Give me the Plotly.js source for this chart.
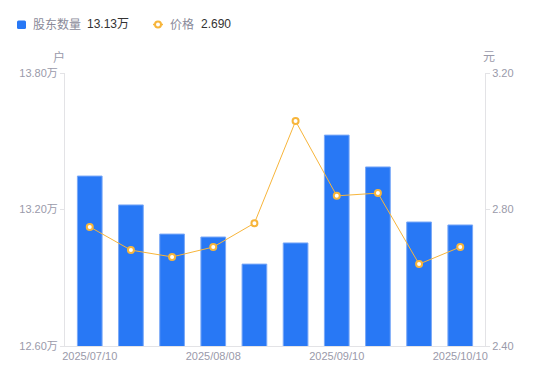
<!DOCTYPE html>
<html><head><meta charset="utf-8">
<script src="https://cdn.plot.ly/plotly-3.0.1.min.js"></script>
<style>html,body{margin:0;padding:0;background:#fff}#c{width:550px;height:381px}</style>
</head><body><div id="c"></div>
<script>
const dates = ['2025/07/10','2025/07/20','2025/07/31','2025/08/08','2025/08/20','2025/08/29','2025/09/10','2025/09/19','2025/09/30','2025/10/10'];
const holders = [13.347, 13.22, 13.092, 13.079, 12.96, 13.053, 13.527, 13.387, 13.145, 13.132];
const prices = [2.749, 2.681, 2.661, 2.690, 2.760, 3.059, 2.840, 2.848, 2.640, 2.690];
const tickDates = ['2025/07/10','2025/08/08','2025/09/10','2025/10/10'];
const holderTicks = [12.6, 13.2, 13.8];
const priceTicks = [2.4, 2.8, 3.2];

const FONT = 'Liberation Sans, Noto Sans CJK SC, sans-serif';
const GRAY = '#9a9aaa';
const AXIS = '#e3e3e6';
const BLUE = '#2878f5';
const ORANGE = '#f7b53b';

// pixel -> paper helpers (plot area 65..485 x, 73..346 y)
const px = x => (x - 65) / 420;
const py = y => (346 - y) / 273;

const traces = [
  {type:'bar', x:dates, y:holders, yaxis:'y', name:'股东数量',
   marker:{color:BLUE, line:{color:'#7aa8f7', width:1}}, width:0.6, hoverinfo:'skip'},
  {type:'scatter', mode:'lines+markers', x:dates, y:prices, yaxis:'y2', name:'价格',
   line:{color:ORANGE, width:1},
   marker:{size:6, color:'#ffffff', line:{color:ORANGE, width:2}}, hoverinfo:'skip'}
];

function roundRect(x0, y0, x1, y1, r) {
  // in paper coords; r in px
  const rx = r / 420, ry = r / 273;
  const X0 = px(x0), X1 = px(x1), Y0 = py(y1), Y1 = py(y0);
  return `M${X0+rx},${Y0} L${X1-rx},${Y0} Q${X1},${Y0} ${X1},${Y0+ry} L${X1},${Y1-ry} Q${X1},${Y1} ${X1-rx},${Y1} L${X0+rx},${Y1} Q${X0},${Y1} ${X0},${Y1-ry} L${X0},${Y0+ry} Q${X0},${Y0} ${X0+rx},${Y0} Z`;
}

const layout = {
  width:550, height:381,
  margin:{l:65, r:65, t:73, b:35},
  paper_bgcolor:'#fff', plot_bgcolor:'#fff',
  showlegend:false,
  font:{family:FONT, size:11, color:GRAY},
  bargap:0.4,
  xaxis:{type:'category', tickmode:'array', tickvals:tickDates, ticktext:tickDates,
    showline:true, linecolor:AXIS, linewidth:1, ticks:'', showgrid:false, zeroline:false,
    tickfont:{size:11, color:GRAY}, fixedrange:true},
  yaxis:{range:[12.6,13.8], tickmode:'array', tickvals:holderTicks,
    ticktext:holderTicks.map(v=>v.toFixed(2)+'万'),
    showline:true, linecolor:AXIS, linewidth:1, ticks:'outside', ticklen:4, tickcolor:AXIS,
    showgrid:false, zeroline:false, tickfont:{size:11, color:GRAY}},
  yaxis2:{range:[2.4,3.2], overlaying:'y', side:'right', tickmode:'array', tickvals:priceTicks,
    ticktext:priceTicks.map(v=>v.toFixed(2)),
    showline:true, linecolor:AXIS, linewidth:1, ticks:'outside', ticklen:4, tickcolor:AXIS,
    showgrid:false, zeroline:false, tickfont:{size:11, color:GRAY}},
  shapes:[
    {type:'path', xref:'paper', yref:'paper', path:roundRect(17, 20.5, 26, 29, 1.5),
     fillcolor:BLUE, line:{width:0}},
    {type:'line', xref:'paper', yref:'paper', x0:px(153), x1:px(163), y0:py(24.5), y1:py(24.5),
     line:{color:ORANGE, width:1.5}},
    {type:'circle', xref:'paper', yref:'paper', x0:px(155), x1:px(161), y0:py(27.5), y1:py(21.5),
     fillcolor:'#ffffff', line:{color:ORANGE, width:2}}
  ],
  annotations:[
    {xref:'paper', yref:'paper', x:px(31), y:py(24.5), xanchor:'left', yanchor:'middle', showarrow:false,
     text:'股东数量', font:{size:12, color:'#8a8a99'}},
    {xref:'paper', yref:'paper', x:px(85), y:py(24.5), xanchor:'left', yanchor:'middle', showarrow:false,
     text:holders[holders.length-1].toFixed(2)+'万', font:{size:12, color:'#333333'}},
    {xref:'paper', yref:'paper', x:px(168), y:py(24.5), xanchor:'left', yanchor:'middle', showarrow:false,
     text:'价格', font:{size:12, color:'#8a8a99'}},
    {xref:'paper', yref:'paper', x:px(199), y:py(24.5), xanchor:'left', yanchor:'middle', showarrow:false,
     text:prices[prices.length-1].toFixed(3), font:{size:12, color:'#333333'}},
    {xref:'paper', yref:'paper', x:px(59), y:py(57), xanchor:'center', yanchor:'middle', showarrow:false,
     text:'户', font:{size:12, color:GRAY}},
    {xref:'paper', yref:'paper', x:px(489), y:py(57), xanchor:'center', yanchor:'middle', showarrow:false,
     text:'元', font:{size:12, color:GRAY}}
  ]
};

Plotly.newPlot('c', traces, layout, {staticPlot:true});
</script></body></html>
